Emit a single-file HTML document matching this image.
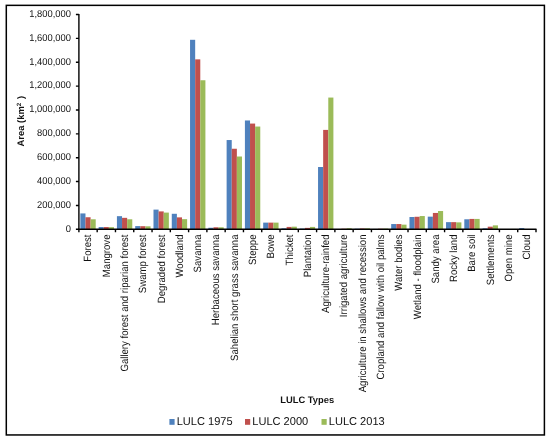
<!DOCTYPE html><html><head><meta charset="utf-8"><title>LULC</title><style>html,body{margin:0;padding:0;background:#fff}svg{display:block}text{text-rendering:geometricPrecision;font-family:"Liberation Sans",Arial,sans-serif;fill:#111}</style></head><body>
<svg width="550" height="440" viewBox="0 0 550 440">
<rect x="0" y="0" width="550" height="440" fill="#fff"/>
<rect x="6.3" y="5.35" width="538.1" height="429.6" fill="none" stroke="#000" stroke-width="1.5"/>
<rect x="80.35" y="213.43" width="5.12" height="15.87" fill="#4F81BD"/>
<rect x="85.47" y="217.25" width="5.12" height="12.05" fill="#C0504D"/>
<rect x="90.59" y="219.28" width="5.12" height="10.02" fill="#9BBB59"/>
<rect x="98.63" y="227.03" width="5.12" height="2.27" fill="#4F81BD"/>
<rect x="103.75" y="227.03" width="5.12" height="2.27" fill="#C0504D"/>
<rect x="108.87" y="227.15" width="5.12" height="2.15" fill="#9BBB59"/>
<rect x="116.92" y="216.17" width="5.12" height="13.13" fill="#4F81BD"/>
<rect x="122.04" y="217.84" width="5.12" height="11.46" fill="#C0504D"/>
<rect x="127.16" y="219.28" width="5.12" height="10.02" fill="#9BBB59"/>
<rect x="135.20" y="226.08" width="5.12" height="3.22" fill="#4F81BD"/>
<rect x="140.32" y="226.20" width="5.12" height="3.10" fill="#C0504D"/>
<rect x="145.44" y="226.32" width="5.12" height="2.98" fill="#9BBB59"/>
<rect x="153.49" y="209.61" width="5.12" height="19.69" fill="#4F81BD"/>
<rect x="158.61" y="211.40" width="5.12" height="17.90" fill="#C0504D"/>
<rect x="163.73" y="212.59" width="5.12" height="16.71" fill="#9BBB59"/>
<rect x="171.77" y="213.79" width="5.12" height="15.51" fill="#4F81BD"/>
<rect x="176.89" y="217.37" width="5.12" height="11.93" fill="#C0504D"/>
<rect x="182.01" y="219.16" width="5.12" height="10.14" fill="#9BBB59"/>
<rect x="190.05" y="39.80" width="5.12" height="189.50" fill="#4F81BD"/>
<rect x="195.17" y="59.37" width="5.12" height="169.93" fill="#C0504D"/>
<rect x="200.29" y="80.25" width="5.12" height="149.05" fill="#9BBB59"/>
<rect x="208.34" y="227.75" width="5.12" height="1.55" fill="#4F81BD"/>
<rect x="213.46" y="227.27" width="5.12" height="2.03" fill="#C0504D"/>
<rect x="218.58" y="227.27" width="5.12" height="2.03" fill="#9BBB59"/>
<rect x="226.62" y="140.04" width="5.12" height="89.26" fill="#4F81BD"/>
<rect x="231.74" y="148.75" width="5.12" height="80.55" fill="#C0504D"/>
<rect x="236.86" y="156.51" width="5.12" height="72.79" fill="#9BBB59"/>
<rect x="244.91" y="120.47" width="5.12" height="108.83" fill="#4F81BD"/>
<rect x="250.03" y="123.57" width="5.12" height="105.73" fill="#C0504D"/>
<rect x="255.15" y="126.55" width="5.12" height="102.75" fill="#9BBB59"/>
<rect x="263.19" y="222.62" width="5.12" height="6.68" fill="#4F81BD"/>
<rect x="268.31" y="222.62" width="5.12" height="6.68" fill="#C0504D"/>
<rect x="273.43" y="222.62" width="5.12" height="6.68" fill="#9BBB59"/>
<rect x="281.47" y="228.35" width="5.12" height="0.95" fill="#4F81BD"/>
<rect x="286.59" y="226.91" width="5.12" height="2.39" fill="#C0504D"/>
<rect x="291.71" y="226.67" width="5.12" height="2.63" fill="#9BBB59"/>
<rect x="299.76" y="228.58" width="5.12" height="0.72" fill="#4F81BD"/>
<rect x="304.88" y="227.87" width="5.12" height="1.43" fill="#C0504D"/>
<rect x="310.00" y="226.91" width="5.12" height="2.39" fill="#9BBB59"/>
<rect x="318.04" y="167.01" width="5.12" height="62.29" fill="#4F81BD"/>
<rect x="323.16" y="129.90" width="5.12" height="99.40" fill="#C0504D"/>
<rect x="328.28" y="97.56" width="5.12" height="131.74" fill="#9BBB59"/>
<rect x="336.33" y="229.06" width="5.12" height="0.24" fill="#4F81BD"/>
<rect x="341.45" y="228.70" width="5.12" height="0.60" fill="#C0504D"/>
<rect x="346.57" y="228.23" width="5.12" height="1.07" fill="#9BBB59"/>
<rect x="354.61" y="228.70" width="5.12" height="0.60" fill="#4F81BD"/>
<rect x="359.73" y="228.46" width="5.12" height="0.84" fill="#C0504D"/>
<rect x="364.85" y="228.35" width="5.12" height="0.95" fill="#9BBB59"/>
<rect x="372.89" y="228.94" width="5.12" height="0.36" fill="#4F81BD"/>
<rect x="378.01" y="228.70" width="5.12" height="0.60" fill="#C0504D"/>
<rect x="383.13" y="228.58" width="5.12" height="0.72" fill="#9BBB59"/>
<rect x="391.18" y="224.05" width="5.12" height="5.25" fill="#4F81BD"/>
<rect x="396.30" y="224.05" width="5.12" height="5.25" fill="#C0504D"/>
<rect x="401.42" y="224.65" width="5.12" height="4.65" fill="#9BBB59"/>
<rect x="409.46" y="217.01" width="5.12" height="12.29" fill="#4F81BD"/>
<rect x="414.58" y="216.77" width="5.12" height="12.53" fill="#C0504D"/>
<rect x="419.70" y="216.05" width="5.12" height="13.25" fill="#9BBB59"/>
<rect x="427.75" y="216.65" width="5.12" height="12.65" fill="#4F81BD"/>
<rect x="432.87" y="212.95" width="5.12" height="16.35" fill="#C0504D"/>
<rect x="437.99" y="211.04" width="5.12" height="18.26" fill="#9BBB59"/>
<rect x="446.03" y="222.14" width="5.12" height="7.16" fill="#4F81BD"/>
<rect x="451.15" y="222.14" width="5.12" height="7.16" fill="#C0504D"/>
<rect x="456.27" y="222.38" width="5.12" height="6.92" fill="#9BBB59"/>
<rect x="464.31" y="219.28" width="5.12" height="10.02" fill="#4F81BD"/>
<rect x="469.43" y="218.92" width="5.12" height="10.38" fill="#C0504D"/>
<rect x="474.55" y="218.92" width="5.12" height="10.38" fill="#9BBB59"/>
<rect x="482.60" y="228.35" width="5.12" height="0.95" fill="#4F81BD"/>
<rect x="487.72" y="226.67" width="5.12" height="2.63" fill="#C0504D"/>
<rect x="492.84" y="225.36" width="5.12" height="3.94" fill="#9BBB59"/>
<rect x="500.88" y="229.18" width="5.12" height="0.12" fill="#4F81BD"/>
<rect x="506.00" y="229.06" width="5.12" height="0.24" fill="#C0504D"/>
<rect x="511.12" y="228.94" width="5.12" height="0.36" fill="#9BBB59"/>
<rect x="519.17" y="228.11" width="5.12" height="1.19" fill="#4F81BD"/>
<rect x="524.29" y="229.06" width="5.12" height="0.24" fill="#C0504D"/>
<rect x="529.41" y="229.18" width="5.12" height="0.12" fill="#9BBB59"/>
<path d="M78.90 14.00V229.80" stroke="#000" stroke-width="1.4" fill="none"/>
<path d="M78.40 229.30H536.50" stroke="#000" stroke-width="1.4" fill="none"/>
<text transform="translate(70.90 232) scale(1 1.05)" font-size="9.35" text-anchor="end">0</text>
<text transform="translate(70.90 208) scale(1 1.05)" font-size="9.35" text-anchor="end">200,000</text>
<text transform="translate(70.90 184) scale(1 1.05)" font-size="9.35" text-anchor="end">400,000</text>
<text transform="translate(70.90 160) scale(1 1.05)" font-size="9.35" text-anchor="end">600,000</text>
<text transform="translate(70.90 136) scale(1 1.05)" font-size="9.35" text-anchor="end">800,000</text>
<text transform="translate(70.90 112) scale(1 1.05)" font-size="9.35" text-anchor="end">1,000,000</text>
<text transform="translate(70.90 88) scale(1 1.05)" font-size="9.35" text-anchor="end">1,200,000</text>
<text transform="translate(70.90 65) scale(1 1.05)" font-size="9.35" text-anchor="end">1,400,000</text>
<text transform="translate(70.90 41) scale(1 1.05)" font-size="9.35" text-anchor="end">1,600,000</text>
<text transform="translate(70.90 17) scale(1 1.05)" font-size="9.35" text-anchor="end">1,800,000</text>
<path d="M75.90 229.30H78.90M75.90 205.43H78.90M75.90 181.57H78.90M75.90 157.70H78.90M75.90 133.83H78.90M75.90 109.97H78.90M75.90 86.10H78.90M75.90 62.23H78.90M75.90 38.37H78.90M75.90 14.50H78.90M78.90 229.30V232.30M97.18 229.30V232.30M115.47 229.30V232.30M133.75 229.30V232.30M152.04 229.30V232.30M170.32 229.30V232.30M188.60 229.30V232.30M206.89 229.30V232.30M225.17 229.30V232.30M243.46 229.30V232.30M261.74 229.30V232.30M280.02 229.30V232.30M298.31 229.30V232.30M316.59 229.30V232.30M334.88 229.30V232.30M353.16 229.30V232.30M371.44 229.30V232.30M389.73 229.30V232.30M408.01 229.30V232.30M426.30 229.30V232.30M444.58 229.30V232.30M462.86 229.30V232.30M481.15 229.30V232.30M499.43 229.30V232.30M517.72 229.30V232.30M536.00 229.30V232.30" stroke="#000" stroke-width="1.4" fill="none"/>
<text transform="translate(91.49 234.50) rotate(-90) scale(1 1.1)" font-size="9.60" text-anchor="end">Forest</text>
<text transform="translate(109.78 234.50) rotate(-90) scale(1 1.1)" font-size="9.60" text-anchor="end">Mangrove</text>
<text transform="translate(128.06 234.50) rotate(-90) scale(1 1.1)" font-size="9.60" text-anchor="end">Gallery forest and riparian forest</text>
<text transform="translate(146.34 234.50) rotate(-90) scale(1 1.1)" font-size="9.60" text-anchor="end">Swamp forest</text>
<text transform="translate(164.63 234.50) rotate(-90) scale(1 1.1)" font-size="9.60" text-anchor="end">Degraded forest</text>
<text transform="translate(182.91 234.50) rotate(-90) scale(1 1.1)" font-size="9.60" text-anchor="end">Woodland</text>
<text transform="translate(201.20 234.50) rotate(-90) scale(1 1.1)" font-size="9.60" text-anchor="end">Savanna</text>
<text transform="translate(219.48 234.50) rotate(-90) scale(1 1.1)" font-size="9.60" text-anchor="end">Herbaceous savanna</text>
<text transform="translate(237.76 234.50) rotate(-90) scale(1 1.1)" font-size="9.60" text-anchor="end">Sahelian short grass savanna</text>
<text transform="translate(256.05 234.50) rotate(-90) scale(1 1.1)" font-size="9.60" text-anchor="end">Steppe</text>
<text transform="translate(274.33 234.50) rotate(-90) scale(1 1.1)" font-size="9.60" text-anchor="end">Bowe</text>
<text transform="translate(292.62 234.50) rotate(-90) scale(1 1.1)" font-size="9.60" text-anchor="end">Thicket</text>
<text transform="translate(310.90 234.50) rotate(-90) scale(1 1.1)" font-size="9.60" text-anchor="end">Plantation</text>
<text transform="translate(329.18 234.50) rotate(-90) scale(1 1.1)" font-size="9.60" text-anchor="end">Agriculture-rainfed</text>
<text transform="translate(347.47 234.50) rotate(-90) scale(1 1.1)" font-size="9.60" text-anchor="end">Irrigated agriculture</text>
<text transform="translate(365.75 234.50) rotate(-90) scale(1 1.1)" font-size="9.60" text-anchor="end">Agriculture in shallows and recession</text>
<text transform="translate(384.04 234.50) rotate(-90) scale(1 1.1)" font-size="9.60" text-anchor="end">Cropland and fallow with oil palms</text>
<text transform="translate(402.32 234.50) rotate(-90) scale(1 1.1)" font-size="9.60" text-anchor="end">Water bodies</text>
<text transform="translate(420.60 234.50) rotate(-90) scale(1 1.1)" font-size="9.60" text-anchor="end">Wetland - floodplain</text>
<text transform="translate(438.89 234.50) rotate(-90) scale(1 1.1)" font-size="9.60" text-anchor="end">Sandy area</text>
<text transform="translate(457.17 234.50) rotate(-90) scale(1 1.1)" font-size="9.60" text-anchor="end">Rocky land</text>
<text transform="translate(475.46 234.50) rotate(-90) scale(1 1.1)" font-size="9.60" text-anchor="end">Bare soil</text>
<text transform="translate(493.74 234.50) rotate(-90) scale(1 1.1)" font-size="9.60" text-anchor="end">Settlements</text>
<text transform="translate(512.02 234.50) rotate(-90) scale(1 1.1)" font-size="9.60" text-anchor="end">Open mine</text>
<text transform="translate(530.31 234.50) rotate(-90) scale(1 1.1)" font-size="9.60" text-anchor="end">Cloud</text>
<text transform="translate(24.3 121.2) rotate(-90)" font-size="9.45" font-weight="bold" text-anchor="middle">Area (km<tspan font-size="6.2" dy="-3.4">2</tspan><tspan dy="3.4" dx="1.2"> )</tspan></text>
<text x="307.2" y="402.8" font-size="9.35" font-weight="bold" text-anchor="middle">LULC Types</text>
<rect x="169.40" y="419.0" width="5.2" height="5.8" fill="#4F81BD"/>
<text transform="translate(176.70 425.2) scale(0.97 1)" font-size="11.4">LULC 1975</text>
<rect x="245.00" y="419.0" width="5.2" height="5.8" fill="#C0504D"/>
<text transform="translate(252.30 425.2) scale(0.97 1)" font-size="11.4">LULC 2000</text>
<rect x="321.50" y="419.0" width="5.2" height="5.8" fill="#9BBB59"/>
<text transform="translate(328.80 425.2) scale(0.97 1)" font-size="11.4">LULC 2013</text>
</svg></body></html>
